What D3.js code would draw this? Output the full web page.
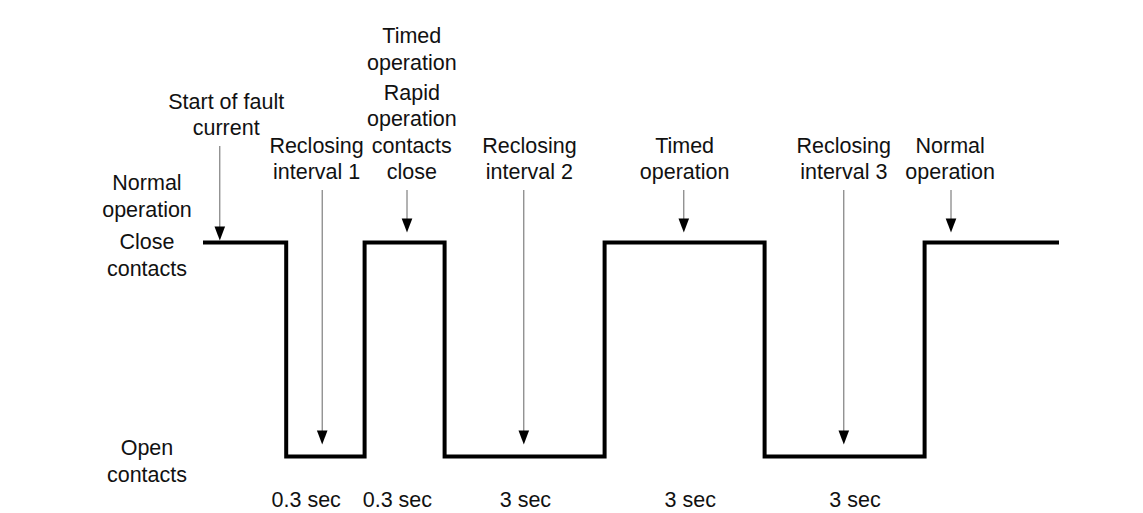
<!DOCTYPE html>
<html>
<head>
<meta charset="utf-8">
<script src="https://cdn.jsdelivr.net/npm/d3@7"></script>
<style>
  html, body { margin: 0; padding: 0; background: #fff; }
  svg { display: block; }
</style>
</head>
<body>
<script>
// schematic time axis (not to scale): breakpoints of the contact state
const stepX = [0, 1.04, 2.02, 3.02, 5.02, 7.02, 9.02, 10.7]
const stepLevel = [1, 0, 1, 0, 1, 0, 1, 1]   // 1 = contacts closed, 0 = open

// annotations with arrows: arrow x, label x, lines of the label, level the arrow points at
const noteX = [0.21, 1.49, 2.55, 4.01, 6.01, 8.01, 9.35]
const noteLabelX = [0.29, 1.42, 2.61, 4.08, 6.02, 8.01, 9.34]
const noteLines = [
  [["Start of fault", "current"]],
  [["Reclosing", "interval 1"]],
  [["Timed", "operation"], ["Rapid", "operation", "contacts", "close"]],
  [["Reclosing", "interval 2"]],
  [["Timed", "operation"]],
  [["Reclosing", "interval 3"]],
  [["Normal", "operation"]]
]
const noteTarget = [1, 0, 1, 0, 1, 0, 1]
const noteRaised = [true, false, false, false, false, false, false]

// durations under the waveform
const durationX = [1.29, 2.43, 4.03, 6.09, 8.15]
const durationText = ["0.3 sec", "0.3 sec", "3 sec", "3 sec", "3 sec"]

// state labels on the left
const stateLabels = [["Normal", "operation"], ["Close", "contacts"], ["Open", "contacts"]]

const width = 1143, height = 513
const lineH = 26.5
const font = "Liberation Sans, Arial, sans-serif"
const fontSize = 21.5

const x = d3.scaleLinear([0, 10.7], [203, 1059])
const y = d3.scaleLinear([0, 1], [456.5, 242.5])

const svg = d3.select("body").append("svg")
    .attr("width", width)
    .attr("height", height)
    .style("font-family", font)
    .style("font-size", fontSize + "px")

const writeLines = (g, cx, lastBaseline, groups) => {
  // groups are stacked bottom-up; small extra gap between groups
  let base = lastBaseline
  for (let gi = groups.length - 1; gi >= 0; gi--) {
    const lines = groups[gi]
    for (let li = lines.length - 1; li >= 0; li--) {
      g.append("text")
        .attr("x", cx)
        .attr("y", base)
        .attr("text-anchor", "middle")
        .attr("fill", "#111")
        .text(lines[li])
      base -= lineH
    }
    base -= 3.5
  }
}

// waveform
const pts = stepX.map((v, i) => [v, stepLevel[i]])
svg.append("path")
  .datum(pts)
  .attr("fill", "none")
  .attr("stroke", "#000")
  .attr("stroke-width", 4)
  .attr("stroke-linejoin", "miter")
  .attr("d", d3.line(d => x(d[0]), d => y(d[1])).curve(d3.curveStepAfter))

// annotations
const notes = svg.append("g")
noteX.forEach((nx, i) => {
  const g = notes.append("g")
  const cx = x(nx)
  const lastBase = noteRaised[i] ? 135 : 179
  writeLines(g, x(noteLabelX[i]), lastBase, noteLines[i])

  const top = lastBase + 11
  // arrow tip: onto the top edge of the high line, or just above the low line
  const tip = noteTarget[i] === 1
    ? (noteRaised[i] ? y(1) - 2 : y(1) - 10)
    : y(0) - 12
  const headLen = 14, headHalf = 5.3
  g.append("line")
    .attr("x1", cx).attr("x2", cx)
    .attr("y1", top).attr("y2", tip - headLen + 1)
    .attr("stroke", "#666")
    .attr("stroke-width", 1)
  g.append("path")
    .attr("d", `M${cx - headHalf},${tip - headLen}L${cx + headHalf},${tip - headLen}L${cx},${tip}Z`)
    .attr("fill", "#000")
})

// duration labels
svg.append("g")
  .selectAll("text")
  .data(durationText)
  .join("text")
    .attr("x", (d, i) => x(durationX[i]))
    .attr("y", 507)
    .attr("text-anchor", "middle")
    .attr("fill", "#111")
    .text(d => d)

// state labels on the left
const left = svg.append("g")
const leftBase = [y(1) - 26, y(1) + 33, y(0) + 25]
stateLabels.forEach((lines, i) => writeLines(left, 147, leftBase[i], [lines]))
</script>
</body>
</html>
